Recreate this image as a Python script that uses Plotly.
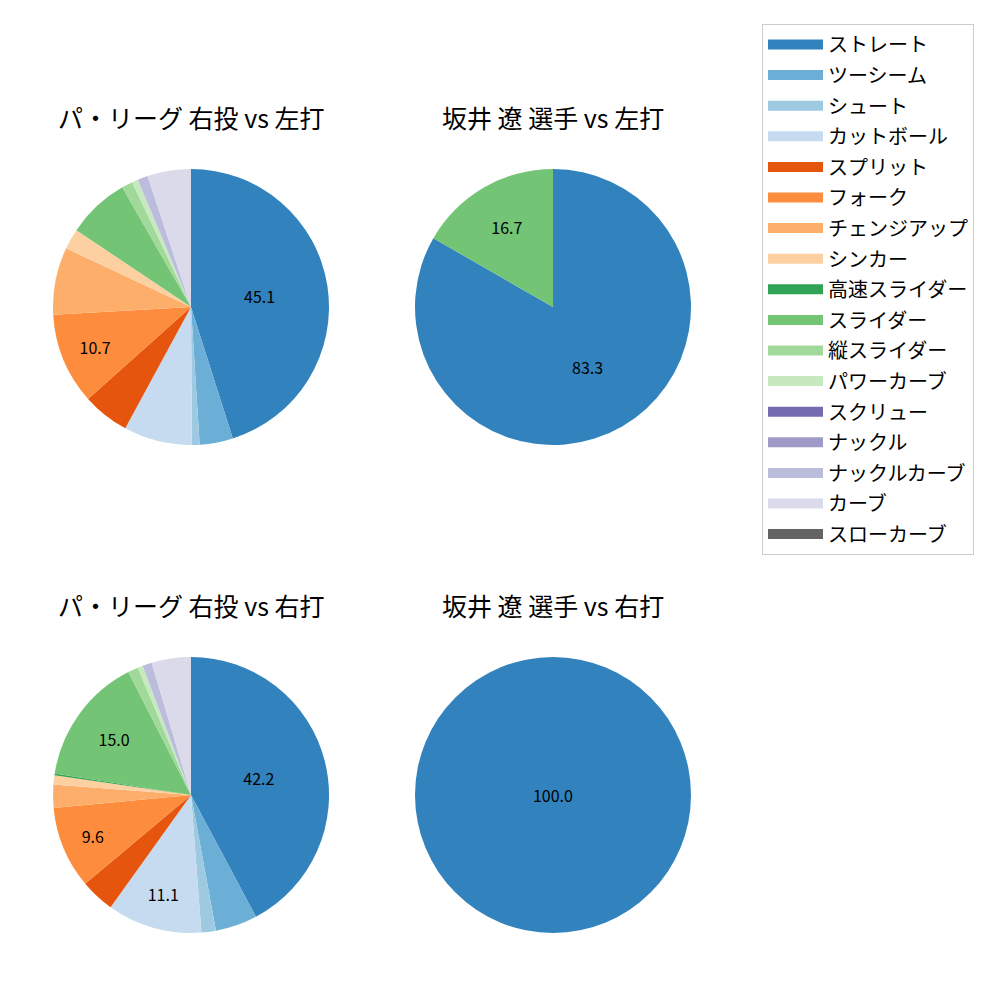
import plotly.graph_objects as go

labels = ["ストレート", "ツーシーム", "シュート", "カットボール", "スプリット", "フォーク",
          "チェンジアップ", "シンカー", "高速スライダー", "スライダー", "縦スライダー",
          "パワーカーブ", "スクリュー", "ナックル", "ナックルカーブ", "カーブ", "スローカーブ"]
colors = ["#3182bd", "#6baed6", "#9ecae1", "#c6dbef", "#e6550d", "#fd8d3c", "#fdae6b",
          "#fdd0a2", "#31a354", "#74c476", "#a1d99b", "#c7e9c0", "#756bb1", "#9e9ac8",
          "#bcbddc", "#dadaeb", "#636363"]

league_vs_left = [45.1, 3.9, 0.9, 8.0, 5.5, 10.7, 7.9, 2.4, 0.0, 7.3, 1.3, 0.7, 0.0, 0.0, 1.2, 5.1, 0.0]
player_vs_left = [83.3, 0, 0, 0, 0, 0, 0, 0, 0, 16.7, 0, 0, 0, 0, 0, 0, 0]
league_vs_right = [42.2, 4.9, 1.7, 11.1, 4.0, 9.6, 2.7, 1.1, 0.2, 15.0, 1.2, 0.6, 0.0, 0.0, 1.1, 4.6, 0.0]
player_vs_right = [100.0, 0, 0, 0, 0, 0, 0, 0, 0, 0, 0, 0, 0, 0, 0, 0, 0]

titles = ["パ・リーグ 右投 vs 左打", "坂井 遼 選手 vs 左打", "パ・リーグ 右投 vs 右打", "坂井 遼 選手 vs 右打"]
series = [league_vs_left, player_vs_left, league_vs_right, player_vs_right]
label_threshold = 9.0

FONT = "Noto Sans CJK JP"
W = H = 1000
OFF = 8  # page body margin
centers = [(191 - OFF, 307 - OFF), (553 - OFF, 307 - OFF), (191 - OFF, 795 - OFF), (553 - OFF, 795 - OFF)]
R = 138

fig = go.Figure()
for i, (vals, (cx, cy)) in enumerate(zip(series, centers)):
    text = [f"{v:.1f}" if v >= label_threshold else "" for v in vals]
    fig.add_trace(go.Pie(
        labels=labels, values=vals, text=text, textinfo="text",
        texttemplate="%{text}", textposition="inside",
        insidetextorientation="horizontal",
        textfont=dict(family=FONT, size=16, color="black"),
        marker=dict(colors=colors, line=dict(width=0)),
        sort=False, direction="clockwise", rotation=0,
        showlegend=False, hoverinfo="label+value",
        domain=dict(x=[(cx - R) / W, (cx + R) / W], y=[1 - (cy + R) / H, 1 - (cy - R) / H]),
    ))
    fig.add_annotation(text=titles[i], x=cx / W, y=1 - (cy - 190) / H, xref="paper", yref="paper",
                       showarrow=False, font=dict(family=FONT, size=25, color="black"),
                       xanchor="center", yanchor="middle")

# legend entries (one per pitch type)
for lab, col in zip(labels, colors):
    fig.add_trace(go.Scatter(x=[None], y=[None], mode="lines", name=lab,
                             line=dict(color=col, width=14), legendgroup=lab,
                             showlegend=True, hoverinfo="skip"))

fig.update_layout(
    width=W, height=H, margin=dict(l=0, r=0, t=0, b=0),
    paper_bgcolor="white", plot_bgcolor="white",
    font=dict(family=FONT, color="black"),
    xaxis=dict(visible=False), yaxis=dict(visible=False),
    legend=dict(x=(762 - OFF) / W, y=1 - (24 - OFF) / H, xanchor="left", yanchor="top",
                bordercolor="#cccccc", borderwidth=1, bgcolor="white",
                font=dict(family=FONT, size=20), traceorder="grouped", tracegroupgap=1.6,
                itemwidth=55),
)
fig.write_html("out.html")
